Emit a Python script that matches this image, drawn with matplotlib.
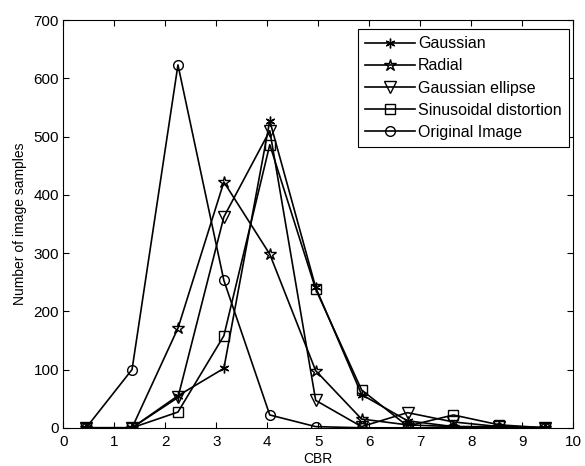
import matplotlib
matplotlib.use("Agg")
from matplotlib import pyplot as plt

plt.rcParams['font.family'] = ['Liberation Sans', 'DejaVu Sans']

# bin centres on the CBR axis
cbr = [0.45, 1.35, 2.25, 3.15, 4.05, 4.95, 5.85, 6.75, 7.65, 8.55, 9.45]

gaussian = [0, 0, 55, 102, 527, 241, 57, 12, 2, 2, 0]
radial = [0, 0, 171, 422, 298, 98, 15, 5, 2, 1, 0]
gauss_ellipse = [0, 0, 52, 362, 510, 47, 2, 26, 10, 2, 0]
sinusoidal = [0, 0, 27, 158, 486, 238, 65, 3, 22, 5, 0]
original = [0, 100, 623, 253, 22, 2, 0, 0, 0, 0, 0]

fig = plt.figure(figsize=(5.85, 4.66), dpi=100)
ax = fig.add_axes([0.108, 0.082, 0.872, 0.875])

lw = 1.2
ax.plot(cbr, gaussian, color='k', lw=lw, marker=(6, 2, 0), ms=7, mew=1.0, label='Gaussian')
ax.plot(cbr, radial, color='k', lw=lw, marker='*', ms=9, mfc='none', mew=1.0, label='Radial')
ax.plot(cbr, gauss_ellipse, color='k', lw=lw, marker='v', ms=8, mfc='none', mew=1.0, label='Gaussian ellipse')
ax.plot(cbr, sinusoidal, color='k', lw=lw, marker='s', ms=7, mfc='none', mew=1.0, label='Sinusoidal distortion')
ax.plot(cbr, original, color='k', lw=lw, marker='o', ms=7, mfc='none', mew=1.0, label='Original Image')

ax.set_xlim(0, 10)
ax.set_ylim(0, 700)
ax.set_xticks(range(0, 11))
ax.set_yticks(range(0, 701, 100))
ax.tick_params(direction='in', top=True, right=True, labelsize=11, length=4)
ax.tick_params(axis='x', pad=5)
ax.tick_params(axis='y', pad=3)
ax.set_xlabel('CBR', fontsize=10, labelpad=2)
ax.set_ylabel('Number of image samples', fontsize=10, labelpad=5)

leg = ax.legend(loc='upper right', bbox_to_anchor=(0.9916, 0.978), fontsize=11.5,
                frameon=True, fancybox=False, edgecolor='k', framealpha=1,
                borderaxespad=0, handlelength=3.1, handletextpad=0.2,
                labelspacing=0.45, borderpad=0.45)
leg.get_frame().set_linewidth(0.8)

fig.savefig('out.png', dpi=100)
